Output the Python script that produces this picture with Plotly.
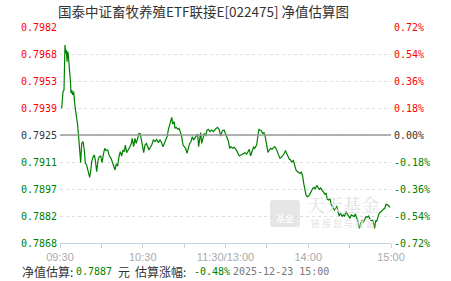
import plotly.graph_objects as go

# ---- data ----
fund_title = "国泰中证畜牧养殖ETF联接E[022475] 净值估算图"
base_nav = 0.7925
pct_ticks = [0.72, 0.54, 0.36, 0.18, 0.00, -0.18, -0.36, -0.54, -0.72]
nav_tick_labels = ["0.7982", "0.7968", "0.7953", "0.7939", "0.7925", "0.7911", "0.7897", "0.7882", "0.7868"]
time_tick_minutes = [0, 30, 60, 90, 120, 150, 180, 210, 240]
time_tick_labels = ["09:30", "", "10:30", "", "11:30/13:00", "", "14:00", "", "15:00"]
est_nav = "0.7887"
est_pct = "-0.48%"
est_time = "2025-12-23 15:00"

minutes = [1.2, 1.7, 2.2, 2.9, 3.4, 3.6, 4.1, 4.6, 5.1, 5.6, 6.0, 6.8, 7.5, 8.0, 8.5, 9.2, 9.9, 10.9, 11.8, 12.8,
           13.5, 14.5, 15.0, 15.7, 16.7, 17.6, 18.4, 19.3, 20.3, 21.0, 21.5, 22.2, 23.0, 23.9, 24.9, 25.6, 26.6, 27.6, 28.5, 29.5,
           30.5, 31.4, 32.4, 33.4, 34.6, 35.8, 37.0, 37.9, 38.9, 39.9, 40.8, 41.8, 42.8, 43.7, 44.7, 45.7, 46.6, 47.4, 48.3, 49.5,
           50.7, 51.7, 52.4, 53.4, 54.4, 55.3, 56.3, 57.3, 58.2, 59.0, 59.9, 60.7, 61.6, 62.6, 63.6, 64.5, 65.5, 66.5, 67.7, 68.9,
           70.1, 71.3, 72.5, 73.7, 74.7, 75.6, 76.9, 77.8, 78.5, 79.5, 80.2, 81.0, 81.7, 82.7, 83.4, 84.3, 85.3, 86.3, 87.2, 88.2,
           89.2, 90.1, 91.1, 92.1, 93.0, 94.0, 95.0, 95.9, 96.9, 97.9, 98.8, 99.8, 100.5, 101.3, 102.0, 102.7, 103.7, 104.6, 105.6, 106.6,
           107.5, 108.8, 110.0, 111.4, 112.9, 114.3, 115.5, 116.5, 117.7, 118.9, 120.1, 121.1, 122.0, 123.0, 124.0, 125.2, 126.4, 127.6, 128.8, 130.0,
           131.2, 132.7, 134.1, 135.3, 136.5, 137.3, 138.2, 139.4, 140.4,
           141.1, 142.6, 143.6, 144.3, 145.0, 145.9, 146.9, 147.9, 148.9, 149.8, 150.8, 151.8, 152.7, 153.7, 154.7, 155.6, 156.6, 157.6, 158.5, 159.5,
           160.5, 161.4, 162.4, 163.4, 164.3, 165.3, 166.3, 167.2, 168.2, 169.2, 170.1, 171.1, 172.1, 173.0, 174.0, 175.0, 175.9, 176.7, 177.4, 178.4,
           179.3, 180.3, 181.3, 182.2, 183.2, 184.2, 185.1, 186.1, 187.1, 188.0, 189.0, 190.0, 190.9, 191.9, 192.9, 193.8, 194.8, 195.8, 196.5, 197.4,
           198.2, 198.9, 199.9, 200.6, 201.6, 202.5, 203.5, 204.5, 205.4, 206.4, 207.4, 208.3, 209.3, 210.3, 211.2, 212.2, 213.2, 214.1, 215.1, 216.1,
           217.0, 218.0, 219.0, 219.9, 220.9, 221.9, 222.8, 223.8, 224.8, 225.7, 226.7, 227.4, 228.1, 228.9, 229.6, 230.6, 231.5, 232.5, 233.5, 234.4,
           235.4, 236.4, 237.3, 238.3, 239.3]
pct_change = [0.178, 0.244, 0.289, 0.300, 0.478, 0.600, 0.544, 0.567, 0.489, 0.556, 0.533, 0.456, 0.367, 0.278, 0.300, 0.267, 0.289, 0.189, 0.144, 0.067,
              -0.011, -0.144, -0.184, -0.056, -0.044, -0.100, -0.189, -0.200, -0.233, -0.256, -0.282, -0.244, -0.178, -0.149, -0.133, -0.167, -0.244, -0.167, -0.144, -0.140,
              -0.184, -0.133, -0.089, -0.104, -0.100, -0.140, -0.156, -0.178, -0.200, -0.233, -0.193, -0.207, -0.144, -0.111, -0.140, -0.100, -0.111, -0.067, -0.118, -0.100,
              -0.078, -0.056, -0.022, -0.078, -0.022, -0.056, -0.011, 0.011, 0.007, -0.044, -0.089, -0.118, -0.067, -0.056, -0.078, -0.100, -0.082, -0.067, -0.033, -0.044,
              -0.029, -0.051, -0.033, -0.051, -0.078, -0.060, -0.033, -0.007, 0.033, 0.067, 0.078, 0.118, 0.073, 0.089, 0.044, 0.051, 0.038, 0.044, 0.022, -0.011,
              -0.067, -0.078, -0.089, -0.122, -0.082, -0.056, -0.044, -0.011, -0.033, -0.016, -0.007, 0.007, -0.078, -0.022, 0.016, -0.056, -0.007, 0.011, -0.007, 0.033,
              0.038, 0.022, 0.033, 0.022, 0.042, 0.051, 0.033, -0.007, 0.029, 0.033, 0.007, -0.016, -0.038, -0.089, -0.078, -0.089, -0.082, -0.096, -0.122, -0.140,
              -0.133, -0.127, -0.118, -0.127, -0.104, -0.096, -0.140, -0.100, -0.078,
              -0.089, -0.067, 0.000, 0.038, 0.033, 0.029, 0.011, 0.016, -0.016, -0.067, -0.116, -0.100, -0.089, -0.096, -0.089, -0.078, -0.089, -0.111, -0.122, -0.156,
              -0.149, -0.140, -0.127, -0.104, -0.122, -0.140, -0.162, -0.167, -0.180, -0.171, -0.207, -0.233, -0.244, -0.251, -0.256, -0.247, -0.273, -0.322, -0.362, -0.400,
              -0.411, -0.407, -0.393, -0.371, -0.356, -0.349, -0.362, -0.336, -0.349, -0.362, -0.353, -0.367, -0.380, -0.393, -0.389, -0.429, -0.433, -0.424, -0.460, -0.473,
              -0.482, -0.500, -0.489, -0.473, -0.511, -0.540, -0.518, -0.544, -0.533, -0.540, -0.511, -0.527, -0.549, -0.556, -0.533, -0.540, -0.544, -0.527, -0.556, -0.578,
              -0.622, -0.593, -0.567, -0.584, -0.556, -0.544, -0.549, -0.540, -0.562, -0.571, -0.567, -0.593, -0.622, -0.571, -0.578, -0.544, -0.522, -0.513, -0.507, -0.496,
              -0.489, -0.462, -0.464, -0.473, -0.482]

# ---- derived ----
nav = [base_nav * (1 + p / 100) for p in pct_change]
RED, GREEN, BLACK = "#ff0000", "#008000", "#333333"

def col(p):
    return RED if p > 0 else (GREEN if p < 0 else BLACK)

left_vals = [base_nav * (1 + p / 100) for p in pct_ticks]
left_text = [f"<span style='color:{col(p)}'>{t}</span>" for p, t in zip(pct_ticks, nav_tick_labels)]
right_text = [f"<span style='color:{col(p)}'>{p:.2f}%</span>" for p in pct_ticks]

W, H = 451, 281
ML, MR, MT, MB = 60, 60, 27, 38
PW, PH = W - ML - MR, H - MT - MB

def px(x):
    return (x - ML) / PW

def py(y):
    return 1 - (y - MT) / PH

fig = go.Figure()

# watermark text (under the line)
fig.add_trace(go.Scatter(
    x=[px(343)], y=[py(207)], xaxis="x2", yaxis="y3", mode="text",
    text=["天天基金"], textfont=dict(family="Noto Serif CJK SC, Noto Sans CJK SC", size=18, color="#e2e2e2"),
    hoverinfo="skip", showlegend=False))
fig.add_trace(go.Scatter(
    x=[px(343)], y=[py(225)], xaxis="x2", yaxis="y3", mode="text",
    text=["链 接 您 与 财 富"], textfont=dict(family="Noto Sans CJK SC", size=9, color="#e2e2e2"),
    hoverinfo="skip", showlegend=False))

fig.add_trace(go.Scatter(x=minutes, y=nav, mode="lines",
                         line=dict(color="#008000", width=1.2), hoverinfo="skip", showlegend=False))
fig.add_trace(go.Scatter(x=minutes, y=pct_change, yaxis="y2", mode="lines",
                         line=dict(color="rgba(0,0,0,0)", width=0), hoverinfo="skip", showlegend=False))

mono = "DejaVu Sans Mono"
cjk = "Noto Sans CJK SC"

bottom_parts = [
    ("净值估算:", 20, cjk, 12, "#333333"),
    (est_nav, 74, mono, 10, GREEN),
    ("元", 116, cjk, 12, "#333333"),
    ("估算涨幅:", 133, cjk, 12, "#333333"),
    (est_pct, 192, mono, 10, GREEN),
    (est_time, 231, mono, 10, "#777777"),
]
bottom_ann = [dict(text=t, xref="paper", yref="paper", x=px(x), y=py(271), xanchor="left", yanchor="middle",
                   showarrow=False, font=dict(family=f, size=s, color=c)) for t, x, f, s, c in bottom_parts]

fig.update_layout(
    width=W, height=H, margin=dict(l=ML, r=MR, t=MT, b=MB),
    paper_bgcolor="white", plot_bgcolor="white",
    xaxis=dict(range=[0, 240], tickvals=time_tick_minutes, ticktext=time_tick_labels,
               showgrid=False, zeroline=False, showline=True, linecolor="#c5d3e2", linewidth=1,
               ticks="outside", ticklen=4, tickcolor="#c5d3e2",
               tickfont=dict(family="Liberation Sans", size=11, color="#aaaaaa")),
    yaxis=dict(range=[left_vals[-1], left_vals[0]], tickvals=left_vals, ticktext=left_text,
               showgrid=True, gridcolor="#dddddd", griddash="dot", gridwidth=1,
               zeroline=False, showline=False, ticks="", ticklabelstandoff=2,
               tickfont=dict(family=mono, size=10)),
    yaxis2=dict(range=[pct_ticks[-1], pct_ticks[0]], tickvals=pct_ticks, ticktext=right_text,
                overlaying="y", side="right", showgrid=False, zeroline=False, showline=False,
                ticks="", ticklabelstandoff=2, tickfont=dict(family=mono, size=10)),
    xaxis2=dict(range=[0, 1], overlaying="x", visible=False),
    yaxis3=dict(range=[0, 1], overlaying="y", visible=False),
    shapes=[
        dict(type="line", xref="paper", x0=0, x1=1, yref="y", y0=base_nav, y1=base_nav,
             line=dict(color="#999999", width=1.5)),
        dict(type="path", xref="paper", yref="paper", layer="below",
             path=f"M {px(273)},{py(200)} L {px(297)},{py(200)} Q {px(300)},{py(200)} {px(300)},{py(203)} "
                  f"L {px(300)},{py(224)} Q {px(300)},{py(227)} {px(297)},{py(227)} L {px(273)},{py(227)} "
                  f"Q {px(270)},{py(227)} {px(270)},{py(224)} L {px(270)},{py(203)} Q {px(270)},{py(200)} {px(273)},{py(200)} Z",
             fillcolor="#e6e6e6", line=dict(width=0)),
    ],
    annotations=[
        dict(text=fund_title, xref="paper", yref="paper", x=px(56), y=py(11), xanchor="left", yanchor="middle",
             showarrow=False, font=dict(family=cjk, size=13.5, color="#333333")),
        dict(text="基金", xref="paper", yref="paper", x=px(285), y=py(218), xanchor="center", yanchor="middle",
             showarrow=False, font=dict(family=cjk, size=9, color="#ffffff")),
    ] + bottom_ann,
)

fig.write_html("out.html")
